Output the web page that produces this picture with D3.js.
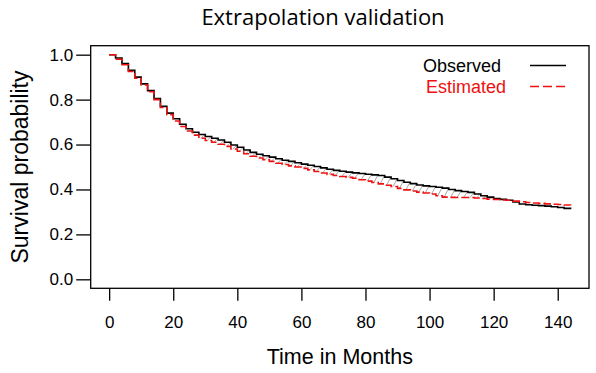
<!DOCTYPE html>
<html>
<head>
<meta charset="utf-8">
<script src="https://cdn.jsdelivr.net/npm/d3@7"></script>
<style>
  body { margin: 0; background: #fff; }
</style>
</head>
<body>
<div class="chart"></div>
<script>
const months = d3.range(0, 145, 2);

const observed = [1.00, 0.985, 0.96, 0.93, 0.90, 0.87, 0.84, 0.805, 0.77, 0.74, 0.715, 0.69,
    0.67, 0.655, 0.645, 0.636, 0.628, 0.62, 0.61, 0.598, 0.588, 0.576, 0.565, 0.557,
    0.55, 0.544, 0.537, 0.53, 0.525, 0.519, 0.513, 0.508, 0.502, 0.496, 0.49, 0.485,
    0.481, 0.477, 0.474, 0.471, 0.468, 0.465, 0.462, 0.455, 0.448, 0.44, 0.432, 0.426,
    0.42, 0.416, 0.413, 0.41, 0.406, 0.40, 0.395, 0.391, 0.387, 0.38, 0.372, 0.366,
    0.36, 0.356, 0.352, 0.344, 0.335, 0.332, 0.33, 0.328, 0.326, 0.323, 0.32, 0.316, 0.312];

const estimated = [1.00, 0.98, 0.955, 0.925, 0.895, 0.865, 0.835, 0.80, 0.765, 0.733, 0.705, 0.68,
    0.66, 0.642, 0.628, 0.618, 0.61, 0.601, 0.592, 0.58, 0.57, 0.559, 0.548, 0.54,
    0.533, 0.525, 0.517, 0.511, 0.505, 0.50, 0.494, 0.487, 0.48, 0.473, 0.467, 0.462,
    0.458, 0.454, 0.45, 0.443, 0.437, 0.431, 0.425, 0.419, 0.413, 0.405, 0.398, 0.393,
    0.388, 0.384, 0.38, 0.372, 0.366, 0.365, 0.364, 0.364, 0.364, 0.362, 0.36, 0.357,
    0.355, 0.353, 0.352, 0.348, 0.345, 0.342, 0.34, 0.338, 0.336, 0.334, 0.333, 0.331, 0.33];

const xTicks = [0, 20, 40, 60, 80, 100, 120, 140];
const yTicks = [0, 0.2, 0.4, 0.6, 0.8, 1.0];
const legendItems = [{name: "Observed", color: "#000", dash: null},
                     {name: "Estimated", color: "#ee1111", dash: "9,4"}];

const width = 596;
const height = 373;
const box = {left: 90.7, right: 589, top: 45.7, bottom: 288.3};
const axisFont = "'Liberation Sans', Arial, sans-serif";
const textFont = "'Open Sans', sans-serif";

const svg = d3.select(".chart")
    .append("svg")
    .attr("width", width)
    .attr("height", height);

// R style: 4% padding on each side of the data range
const x = d3.scaleLinear()
    .domain([-0.04 * 144, 144 * 1.04])
    .range([box.left, box.right]);

const y = d3.scaleLinear()
    .domain([-0.04, 1.04])
    .range([box.bottom, box.top]);

// step lookup, used for the hatching between the curves
function valueAt(vals, t) {
    const i = d3.bisectRight(months, t) - 1;
    return vals[Math.max(0, i)];
}

// grey hatching where observed sits above estimated
const hatchTimes = d3.range(28.6, 119, 2);
svg.append("g")
    .selectAll("line")
    .data(hatchTimes.filter(t => valueAt(observed, t) - valueAt(estimated, t) > 0.008))
    .enter()
    .append("line")
    .attr("x1", t => x(t))
    .attr("y1", t => y(valueAt(estimated, t)))
    .attr("x2", t => x(t + 1.3))
    .attr("y2", t => y(valueAt(observed, t + 1.3)))
    .attr("stroke", "#a8a8a8")
    .attr("stroke-width", 1);

const line = d3.line()
    .x((d, i) => x(months[i]))
    .y(d => y(d))
    .curve(d3.curveStepAfter);

svg.append("path")
    .datum(observed)
    .attr("d", line)
    .attr("fill", "none")
    .attr("stroke", "#000")
    .attr("stroke-width", 1.6);

svg.append("path")
    .datum(estimated)
    .attr("d", line)
    .attr("fill", "none")
    .attr("stroke", "#ee1111")
    .attr("stroke-width", 1.6)
    .attr("stroke-dasharray", "8,3");

// plot box
svg.append("rect")
    .attr("x", box.left)
    .attr("y", box.top)
    .attr("width", box.right - box.left)
    .attr("height", box.bottom - box.top)
    .attr("fill", "none")
    .attr("stroke", "#000")
    .attr("stroke-width", 1.3);

// x axis, ticks hang below the box
const xAxis = svg.append("g")
    .attr("transform", `translate(0, ${box.bottom})`)
    .call(d3.axisBottom(x).tickValues(xTicks).tickSize(12.5).tickPadding(15).tickFormat(d3.format("d")));
xAxis.select(".domain").remove();
xAxis.selectAll("line").attr("stroke-width", 1.3);
xAxis.selectAll("text")
    .style("font-family", axisFont)
    .style("font-size", "17px")
    .attr("fill", "#000");

// y axis, ticks stick out left of the box
const yAxis = svg.append("g")
    .attr("transform", `translate(${box.left}, 0)`)
    .call(d3.axisLeft(y).tickValues(yTicks).tickSize(14.5).tickPadding(3).tickFormat(d3.format(".1f")));
yAxis.select(".domain").remove();
yAxis.selectAll("line").attr("stroke-width", 1.3);
yAxis.selectAll("text")
    .style("font-family", axisFont)
    .style("font-size", "17px")
    .attr("fill", "#000");

// titles
svg.append("text")
    .attr("x", 323)
    .attr("y", 25)
    .attr("text-anchor", "middle")
    .style("font-family", textFont)
    .style("font-size", "22px")
    .text("Extrapolation validation");

svg.append("text")
    .attr("x", (box.left + box.right) / 2)
    .attr("y", 364)
    .attr("text-anchor", "middle")
    .style("font-family", axisFont)
    .style("font-size", "21.5px")
    .text("Time in Months");

svg.append("text")
    .attr("transform", `translate(28, ${(box.top + box.bottom) / 2}) rotate(-90)`)
    .attr("text-anchor", "middle")
    .style("font-family", axisFont)
    .style("font-size", "23px")
    .text("Survival probability");

// legend, spaced so the two labels don't touch
const legend = svg.selectAll(".legend")
    .data(legendItems)
    .enter()
    .append("g")
    .attr("class", "legend")
    .attr("transform", (d, i) => `translate(0, ${i * 21})`);

legend.append("text")
    .attr("x", (d, i) => i === 0 ? 423 : 426)
    .attr("y", 72)
    .style("font-family", axisFont)
    .style("font-size", "18px")
    .attr("fill", d => d.color)
    .text(d => d.name);

legend.append("line")
    .attr("x1", 530)
    .attr("x2", 566)
    .attr("y1", 65.5)
    .attr("y2", 65.5)
    .attr("stroke", d => d.color)
    .attr("stroke-width", 1.6)
    .attr("stroke-dasharray", d => d.dash);
</script>
</body>
</html>
